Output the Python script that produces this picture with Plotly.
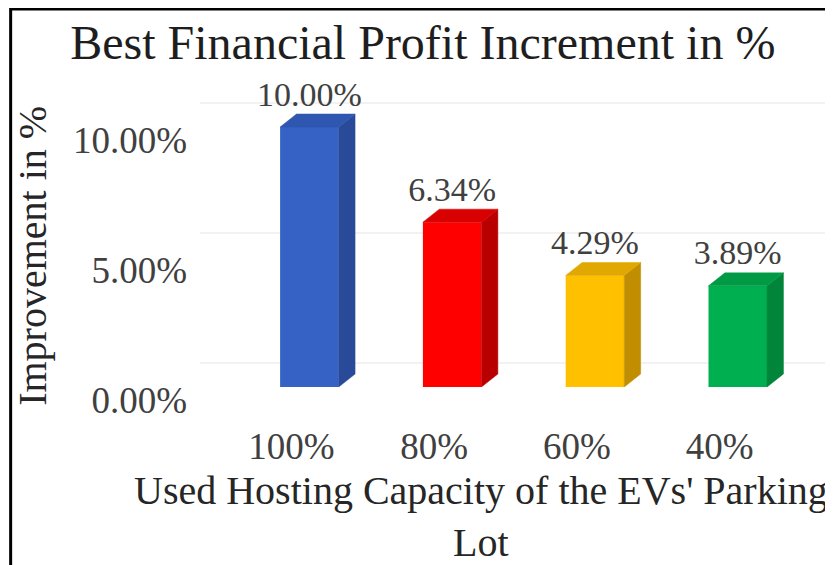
import plotly.graph_objects as go

categories = ["100%", "80%", "60%", "40%"]
values = [10.00, 6.34, 4.29, 3.89]
labels = ["10.00%", "6.34%", "4.29%", "3.89%"]
y_ticks = [0, 5, 10]
y_tick_labels = ["0.00%", "5.00%", "10.00%"]

front_colors = ["#3662C6", "#FF0000", "#FFC000", "#00B050"]
side_colors = ["#284A98", "#B80000", "#C08E00", "#00853A"]
top_colors = ["#2F57B0", "#D80000", "#E0A800", "#009A45"]

BAR_W = 0.41
DX = 0.115   # depth in x units
DY = 0.5     # depth in y units
WALL = 0.92  # back wall offset in y units
FONT = "Liberation Serif"

xs = list(range(len(categories)))
fig = go.Figure()

# front faces
fig.add_trace(go.Bar(x=xs, y=values, width=BAR_W, marker=dict(color=front_colors, line=dict(width=0)),
                     showlegend=False, hoverinfo="skip"))

# side and top faces
for x, v, sc, tc in zip(xs, values, side_colors, top_colors):
    r = x + BAR_W / 2
    l = x - BAR_W / 2
    fig.add_trace(go.Scatter(x=[r, r + DX, r + DX, r, r], y=[0, DY, v + DY, v, 0],
                             fill="toself", fillcolor=sc, mode="lines",
                             line=dict(color=sc, width=0.5), hoverinfo="skip", showlegend=False))
    fig.add_trace(go.Scatter(x=[l, l + DX, r + DX, r, l], y=[v, v + DY, v + DY, v, v],
                             fill="toself", fillcolor=tc, mode="lines",
                             line=dict(color=tc, width=0.5), hoverinfo="skip", showlegend=False))

# data labels
fig.add_trace(go.Scatter(x=xs, y=[v + DY for v in values], mode="text", text=labels,
                         textposition="top center",
                         textfont=dict(family=FONT, size=34, color="#404040"),
                         cliponaxis=False, hoverinfo="skip", showlegend=False))

# back-wall gridlines (behind the bars)
grid_shapes = [dict(type="line", xref="paper", yref="y", x0=0, x1=1, y0=t + WALL, y1=t + WALL,
                    line=dict(color="#EEEEEE", width=1.5), layer="below") for t in y_ticks]

# the page body adds an 8px offset; layout positions below compensate for it
fig.update_layout(
    width=833, height=565,
    margin=dict(l=192, r=0, t=67, b=186),
    paper_bgcolor="white", plot_bgcolor="white",
    title=dict(text="Best Financial Profit Increment in %", x=0.498, xanchor="center",
               y=1 - 34 / 565, yanchor="middle", yref="container",
               font=dict(family=FONT, size=48, color="#1e1e1e")),
    xaxis=dict(range=[-0.766, 3.723], tickmode="array", tickvals=xs, ticktext=categories,
               showgrid=False, zeroline=False, showline=False, ticks="",
               tickfont=dict(family=FONT, size=37, color="#404040"),
               ticklabelshift=-18, ticklabelstandoff=34),
    yaxis=dict(range=[0, 12], tickmode="array", tickvals=y_ticks, ticktext=y_tick_labels,
               showgrid=False, zeroline=False, showline=False, ticks="",
               tickfont=dict(family=FONT, size=37, color="#404040"),
               ticklabelshift=13, ticklabelstandoff=12),
    annotations=[
        dict(text="Used Hosting Capacity of the EVs' Parking<br>Lot", xref="paper", yref="paper",
             x=0.439, y=-0.4135, xanchor="center", yanchor="middle", showarrow=False,
             font=dict(family=FONT, size=40, color="#262626")),
        dict(text="Improvement in %", xref="paper", yref="paper", x=-0.2607, y=0.42,
             xanchor="center", yanchor="middle", textangle=-90, showarrow=False,
             font=dict(family=FONT, size=40, color="#262626")),
    ],
    shapes=grid_shapes + [
        dict(type="rect", xref="paper", yref="paper", x0=-0.2954, x1=1.05, y0=-0.65, y1=1.2115,
             line=dict(color="black", width=3), layer="above")],
)

fig.write_html("out.html")
